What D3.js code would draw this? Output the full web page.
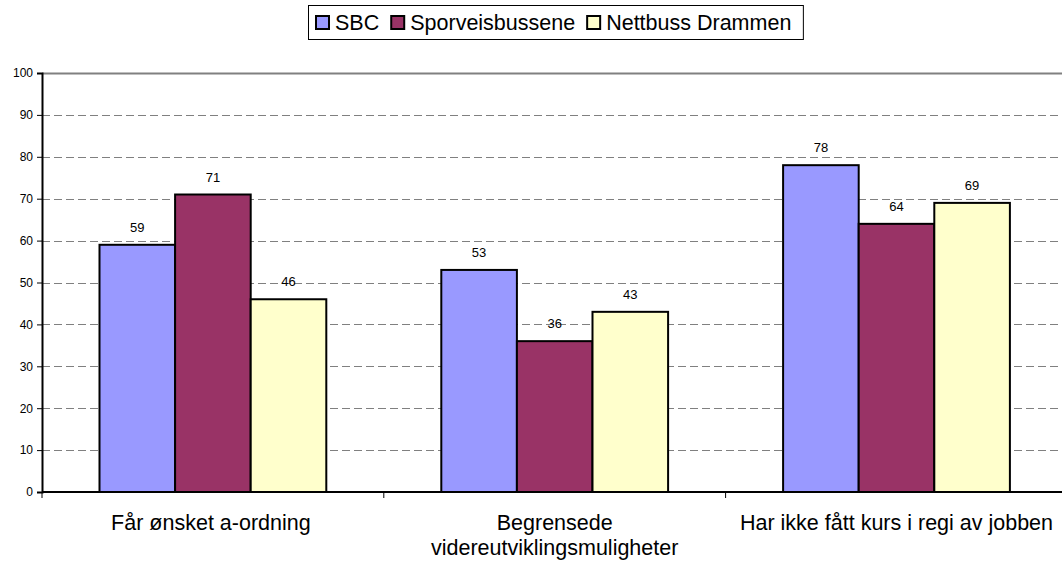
<!DOCTYPE html>
<html>
<head>
<meta charset="utf-8">
<script src="https://cdn.jsdelivr.net/npm/d3@7"></script>
<style>
  body { margin: 0; background: #fff; }
  svg { display: block; font-family: Arial, "Liberation Sans", sans-serif; }
</style>
</head>
<body>
<div id="chart"></div>
<script>
const categories = ['Får ønsket a-ordning', 'Begrensede videreutviklingsmuligheter', 'Har ikke fått kurs i regi av jobben'];
const categoryLines = [['Får ønsket a-ordning'], ['Begrensede', 'videreutviklingsmuligheter'], ['Har ikke fått kurs i regi av jobben']];
const seriesNames = ['SBC', 'Sporveisbussene', 'Nettbuss Drammen'];
const seriesColors = ['#9999ff', '#993366', '#ffffcc'];
const sbc = [59, 53, 78];
const sporveis = [71, 36, 64];
const nettbuss = [46, 43, 69];
const yTicks = [0, 10, 20, 30, 40, 50, 60, 70, 80, 90, 100];

const values = [sbc, sporveis, nettbuss];

const width = 1062, height = 563;
const margin = {top: 73, left: 42, bottom: 71};
const catWidth = 341.8;
const plotBottom = height - margin.bottom;

const svg = d3.select('#chart').append('svg')
    .attr('width', width)
    .attr('height', height);

const x0 = d3.scaleBand()
    .domain(categories)
    .range([margin.left, margin.left + catWidth * 3]);

const x1 = d3.scaleBand()
    .domain(seriesNames)
    .range([57.5, catWidth - 57.5]);

const y = d3.scaleLinear()
    .domain([0, 100])
    .range([plotBottom, margin.top]);

// grid lines
svg.append('g')
  .selectAll('line')
  .data(yTicks.filter(d => d > 0))
  .join('line')
    .attr('x1', margin.left)
    .attr('x2', width)
    .attr('y1', d => Math.round(y(d)) + 0.5)
    .attr('y2', d => Math.round(y(d)) + 0.5)
    .attr('stroke', '#808080')
    .attr('stroke-width', d => d === 100 ? 2 : 1)
    .attr('stroke-dasharray', d => d === 100 ? null : '8,4');

// bars
const rows = categories.map((c, i) => seriesNames.map((s, j) => ({cat: c, series: s, value: values[j][i], color: seriesColors[j]})));

const groups = svg.append('g')
  .selectAll('g')
  .data(rows)
  .join('g')
    .attr('transform', (d, i) => `translate(${x0(categories[i])},0)`);

groups.selectAll('rect')
  .data(d => d)
  .join('rect')
    .attr('x', d => x1(d.series))
    .attr('y', d => y(d.value))
    .attr('width', x1.bandwidth())
    .attr('height', d => plotBottom - y(d.value))
    .attr('fill', d => d.color)
    .attr('stroke', '#000')
    .attr('stroke-width', 2);

groups.selectAll('text')
  .data(d => d)
  .join('text')
    .attr('x', d => x1(d.series) + x1.bandwidth() / 2)
    .attr('y', d => y(d.value) - 13)
    .attr('text-anchor', 'middle')
    .attr('font-size', 13)
    .attr('fill', '#000')
    .text(d => d.value);

// y axis
const yAxis = svg.append('g')
    .attr('transform', `translate(${margin.left},0)`)
    .call(d3.axisLeft(y).tickValues(yTicks).tickSize(5).tickPadding(4));
yAxis.select('.domain').attr('stroke', '#000').attr('stroke-width', 2);
yAxis.selectAll('.tick line').attr('stroke', '#000');
yAxis.selectAll('.tick text').attr('font-size', 12).attr('font-family', 'Arial, "Liberation Sans", sans-serif').attr('fill', '#000');

// x axis
svg.append('line')
    .attr('x1', margin.left).attr('x2', width)
    .attr('y1', plotBottom).attr('y2', plotBottom)
    .attr('stroke', '#000').attr('stroke-width', 2);

svg.append('g')
  .selectAll('line')
  .data(categories)
  .join('line')
    .attr('x1', d => x0(d)).attr('x2', d => x0(d))
    .attr('y1', plotBottom).attr('y2', plotBottom + 6)
    .attr('stroke', '#000');

svg.append('g')
  .selectAll('text')
  .data(categories)
  .join('text')
    .attr('x', d => x0(d) + x0.bandwidth() / 2)
    .attr('y', plotBottom + 38)
    .attr('text-anchor', 'middle')
    .attr('font-size', 21.5)
    .attr('fill', '#000')
    .each(function(d, i) {
      d3.select(this).selectAll('tspan')
        .data(categoryLines[i])
        .join('tspan')
          .attr('x', x0(d) + x0.bandwidth() / 2 - (i === 0 ? 2 : 0))
          .attr('dy', (t, k) => k === 0 ? 0 : 25)
          .text(t => t);
    });

// legend
const legend = svg.append('g');
const legendBox = legend.append('rect')
    .attr('x', 308.5).attr('y', 5.5)
    .attr('height', 34)
    .attr('fill', '#fff')
    .attr('stroke', '#000')
    .attr('stroke-width', 1);

let lx = 316;
seriesNames.forEach((s, i) => {
  legend.append('rect')
      .attr('x', lx).attr('y', 16)
      .attr('width', 13).attr('height', 13)
      .attr('fill', seriesColors[i])
      .attr('stroke', '#000')
      .attr('stroke-width', 2);
  const t = legend.append('text')
      .attr('x', lx + 19).attr('y', 30)
      .attr('font-size', 21.5)
      .attr('fill', '#000')
      .text(s);
  lx += 19 + t.node().getComputedTextLength() + 12;
});
legendBox.attr('width', lx - 308.5);
</script>
</body>
</html>
